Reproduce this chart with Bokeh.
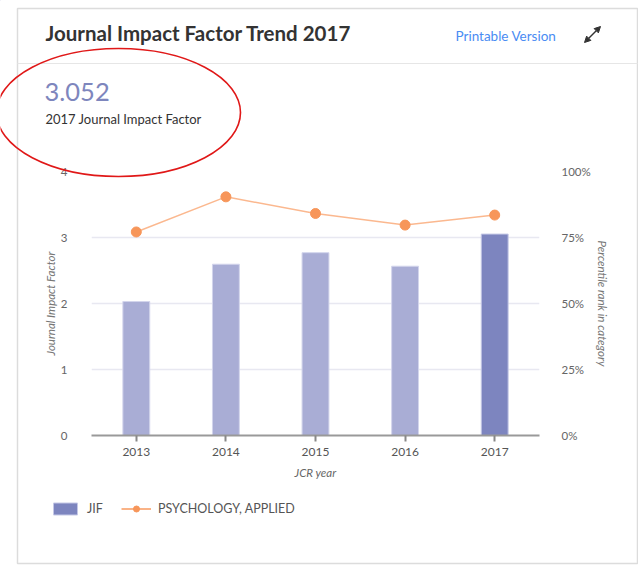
from bokeh.plotting import figure
from bokeh.layouts import column
from bokeh.models import (FactorRange, Range1d, LinearAxis, ColumnDataSource, CDSView,
                          IndexFilter, Legend, LegendItem, Label, Arrow, NormalHead,
                          PrintfTickFormatter, FixedTicker)
from bokeh.embed import file_html
from bokeh.resources import INLINE

# JCR data
years = ["2013", "2014", "2015", "2016", "2017"]
jif = [2.03, 2.595, 2.77, 2.565, 3.052]
percentile = [77.1, 90.4, 84.1, 79.7, 83.5]
jif_ticks = [0, 1, 2, 3, 4]
pct_ticks = [0, 25, 50, 75, 100]

FONT = "Lato"
W, H = 638, 565
BAR_LIGHT, BAR_DARK, ORANGE = "#a9add5", "#7d85bf", "#f7965a"

src = ColumnDataSource(dict(year=years, jif=jif, pct=percentile))

# ---- chart ---------------------------------------------------------------
p = figure(width=W, height=H, x_range=FactorRange(*years), y_range=Range1d(0, 4),
           output_backend="svg", toolbar_location=None,
           min_border_left=91, min_border_right=W - 539,
           min_border_top=171, min_border_bottom=H - 435,
           background_fill_color="white", border_fill_color="white")
p.outline_line_color = None
p.extra_y_ranges = {"pct": Range1d(0, 100)}

# bars: earlier years light, latest year dark
p.vbar(x="year", top="jif", width=0.3, source=src,
       view=CDSView(filter=IndexFilter([0, 1, 2, 3])),
       fill_color=BAR_LIGHT, line_color="#d3d5ec", line_width=1)
p.vbar(x="year", top="jif", width=0.3, source=src,
       view=CDSView(filter=IndexFilter([4])),
       fill_color=BAR_DARK, line_color="#c5c8e6", line_width=1)

# percentile rank in category
p.line(x="year", y="pct", source=src, y_range_name="pct",
       line_color="#f9a06a", line_alpha=0.75, line_width=1.5)
p.scatter(x="year", y="pct", source=src, y_range_name="pct", size=10,
          fill_color=ORANGE, line_color=ORANGE)

yl = p.yaxis[0]
yl.ticker = FixedTicker(ticks=jif_ticks)
yl.axis_label = "Journal Impact Factor"
yr = LinearAxis(y_range_name="pct", ticker=FixedTicker(ticks=pct_ticks),
                formatter=PrintfTickFormatter(format="%d%%"),
                axis_label="Percentile rank in category")
p.add_layout(yr, "right")

for ax in (yl, yr):
    ax.axis_line_color = None
    ax.major_tick_line_color = None
    ax.minor_tick_line_color = None
    ax.major_label_text_font = FONT
    ax.major_label_text_font_size = "11.5px"
    ax.major_label_text_color = "#666666"
    ax.axis_label_text_font = FONT
    ax.axis_label_text_font_size = "11.5px"
    ax.axis_label_text_font_style = "italic"
    ax.axis_label_text_color = "#777777"
yl.major_label_standoff = 18
yl.axis_label_standoff = 1
yr.major_label_standoff = 16
yr.axis_label_standoff = 2

xa = p.xaxis[0]
xa.axis_label = "JCR year"
xa.axis_line_color = "#999999"
xa.axis_line_width = 2
xa.major_tick_line_color = "#888888"
xa.major_tick_line_width = 2
xa.major_tick_in = 0
xa.major_tick_out = 6
xa.minor_tick_line_color = None
xa.major_label_text_font = FONT
xa.major_label_text_font_size = "12px"
xa.major_label_text_color = "#555555"
xa.major_label_standoff = 6
xa.axis_label_text_font = FONT
xa.axis_label_text_font_size = "11.5px"
xa.axis_label_text_font_style = "italic"
xa.axis_label_text_color = "#666666"
xa.axis_label_standoff = 7

p.xgrid.grid_line_color = None
p.ygrid.grid_line_color = "#e8e8f1"
p.ygrid.grid_line_width = 1.5
p.ygrid.ticker = FixedTicker(ticks=[1, 2, 3, 4])

# ---- card overlay: header, legend, highlight (pixel coordinates) ---------
c = figure(width=W, height=H, x_range=Range1d(0, W), y_range=Range1d(H, 0),
           output_backend="svg", toolbar_location=None,
           x_axis_location=None, y_axis_location=None, min_border=0,
           background_fill_alpha=0, border_fill_alpha=0)
c.outline_line_color = None
c.grid.grid_line_color = None

# card frame and header divider
c.quad(left=17, right=637, top=8, bottom=563, fill_color=None,
       line_color="#dcdcdc", line_width=1.5)
c.line(x=[17, 637], y=[63, 63], line_color="#e6e6e6", line_width=1)

c.add_layout(Label(x=45, y=32, text="Journal Impact Factor Trend 2017", text_font=FONT,
                   text_font_size="20.5px", text_font_style="bold",
                   text_color="#333333", text_baseline="middle"))
c.add_layout(Label(x=455, y=35, text="Printable Version", text_font=FONT,
                   text_font_size="13.5px", text_color="#4a8cf3",
                   text_baseline="middle"))
c.add_layout(Arrow(x_start=584, y_start=42, x_end=600, y_end=26,
                   start=NormalHead(size=6, fill_color="#333333", line_color="#333333"),
                   end=NormalHead(size=6, fill_color="#333333", line_color="#333333"),
                   line_color="#333333", line_width=1.5))
c.add_layout(Label(x=44, y=91, text=f"{jif[-1]:.3f}", text_font=FONT,
                   text_font_size="25.5px", text_color="#7e86bd",
                   text_baseline="middle"))
c.add_layout(Label(x=45, y=118, text="2017 Journal Impact Factor", text_font=FONT,
                   text_font_size="13px", text_color="#333333",
                   text_baseline="middle"))

# red highlight ring around the headline figure
c.ellipse(x=118, y=112, width=244, height=128, fill_color=None,
          line_color="#e01818", line_width=1.6)

# legend key glyphs, parked off-canvas so only their legend swatches show
parked = ColumnDataSource(dict(x=[-50], y=[-50]))
leg_bar = c.vbar(x="x", top="y", width=1, source=parked, fill_color=BAR_DARK,
                 line_color="#c5c8e6")
leg_line = c.line(x="x", y="y", source=parked, line_color="#f9a06a", line_width=1.6)
leg_pt = c.scatter(x="x", y="y", source=parked, size=10, fill_color=ORANGE,
                   line_color=ORANGE)
legend = Legend(items=[LegendItem(label="JIF", renderers=[leg_bar]),
                       LegendItem(label="PSYCHOLOGY, APPLIED",
                                  renderers=[leg_line, leg_pt])],
                orientation="horizontal", location=(50, H - 516),
                glyph_width=30, glyph_height=15, label_height=14, label_standoff=7,
                spacing=14, padding=0, margin=0,
                border_line_alpha=0, background_fill_alpha=0,
                label_text_font=FONT, label_text_font_size="12.5px",
                label_text_color="#555555")
c.add_layout(legend)

overlay = column(c, margin=(-H, 0, 0, 0))
layout = column(p, overlay)
open("out.html", "w").write(file_html(layout, INLINE))
